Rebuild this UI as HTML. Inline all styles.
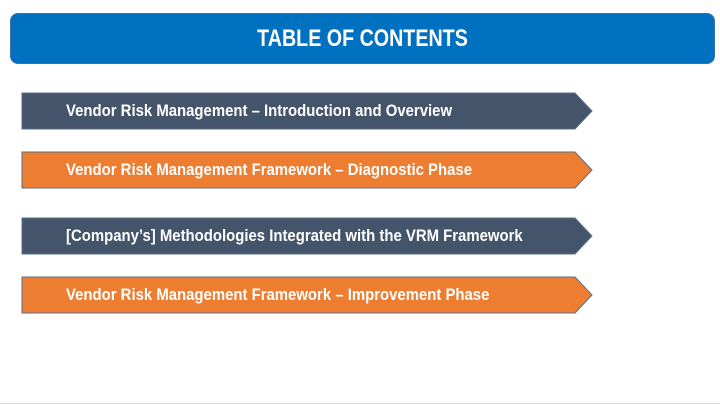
<!DOCTYPE html>
<html><head><style>
body{margin:0;width:720px;height:405px;background:#fff;position:relative;overflow:hidden;font-family:"Liberation Sans",sans-serif;}
.title{position:absolute;left:10px;top:13px;width:703px;height:49px;background:#0070c0;border:1px solid #3a6fa8;border-radius:8px;}
.title span{position:absolute;left:0;right:0;top:0;text-align:center;color:#fff;font-size:24px;font-weight:bold;line-height:49px;transform:scaleX(0.82);}
.t{position:absolute;left:66px;color:#fff;font-weight:bold;font-size:17px;white-space:nowrap;transform:scaleX(0.877);transform-origin:0 50%;}
svg{position:absolute;left:0;top:0;}
</style></head><body>
<div class="title"><span>TABLE OF CONTENTS</span></div>
<svg width="720" height="405">
<polygon points="22,93 575,93 592,111 575,129 22,129" fill="#44546a" stroke="#5b6f8a" stroke-width="1"/>
<polygon points="22,152 575,152 592,170 575,188 22,188" fill="#ed7d31" stroke="#5b6f8a" stroke-width="1"/>
<polygon points="22,218 575,218 592,236 575,254 22,254" fill="#44546a" stroke="#5b6f8a" stroke-width="1"/>
<polygon points="22,277 575,277 592,295 575,313 22,313" fill="#ed7d31" stroke="#5b6f8a" stroke-width="1"/>
<line x1="0" y1="403.5" x2="720" y2="403.5" stroke="#d9d9d9"/>
</svg>
<div class="t" style="top:101px">Vendor Risk Management – Introduction and Overview</div>
<div class="t" style="top:160px">Vendor Risk Management Framework – Diagnostic Phase</div>
<div class="t" style="top:226px">[Company’s] Methodologies Integrated with the VRM Framework</div>
<div class="t" style="top:285px">Vendor Risk Management Framework – Improvement Phase</div>
</body></html>
